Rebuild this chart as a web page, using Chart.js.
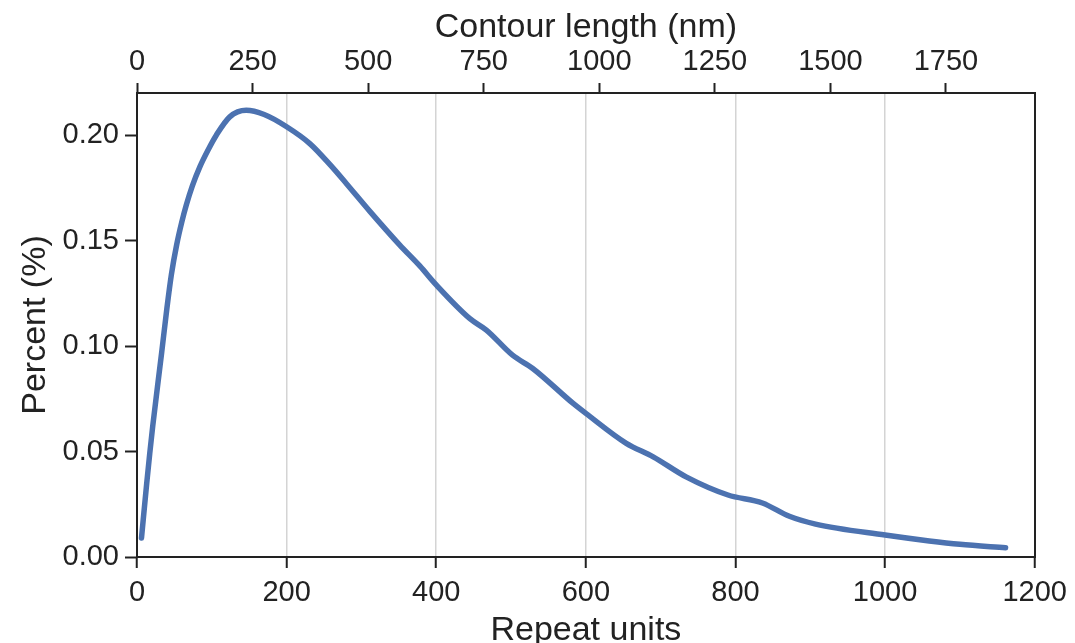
<!DOCTYPE html>
<html lang="en">
<head>
    <meta charset="UTF-8">
    <title>Repeat units distribution</title>
    <script src="https://cdn.jsdelivr.net/npm/chart.js"></script>
    <style>
        body {
            margin: 0;
            padding: 0;
            background: #fff;
        }
        canvas {
            display: block;
        }
    </style>
    <script>
        // values
        const repeatUnits = [6, 13, 17, 21, 33, 40, 46, 53, 60, 66, 74, 84, 95, 106, 124, 146, 170, 200, 231, 258, 280, 311, 351, 378, 400, 445, 467, 502, 529, 583, 600, 654, 690, 734, 790, 836, 872, 907, 1000, 1059, 1100, 1161];
        const percentValues = [0.009, 0.035, 0.049, 0.062, 0.097, 0.118, 0.134, 0.148, 0.159, 0.167, 0.176, 0.185, 0.193, 0.200, 0.2087, 0.2118, 0.2098, 0.204, 0.196, 0.186, 0.177, 0.164, 0.148, 0.138, 0.129, 0.113, 0.1076, 0.0957, 0.0894, 0.0728, 0.0681, 0.0539, 0.0475, 0.038, 0.0294, 0.0256, 0.0193, 0.0156, 0.0104, 0.0076, 0.006, 0.0044];
        const contourTicks = [0, 250, 500, 750, 1000, 1250, 1500, 1750];
        const contourMax = 1942;   // nm at 1200 repeat units

        const fuente = '"Liberation Sans", Arial, sans-serif';
        const tinta = '#222222';

        function dibujar() {
            const puntos = repeatUnits.map((u, i) => ({ x: u, y: percentValues[i] }));
            const ctx = document.getElementById('grafico').getContext('2d');

            new Chart(ctx, {
                type: 'line',
                data: {
                    datasets: [{
                        data: puntos,
                        borderColor: '#4C72B0',
                        borderWidth: 5.5,
                        borderCapStyle: 'round',
                        borderJoinStyle: 'round',
                        pointRadius: 0,
                        cubicInterpolationMode: 'monotone',
                        fill: false,
                        xAxisID: 'x',
                        yAxisID: 'y'
                    }]
                },
                options: {
                    responsive: false,
                    animation: false,
                    devicePixelRatio: 1,
                    layout: { padding: 0 },
                    plugins: {
                        legend: { display: false },
                        tooltip: { enabled: false }
                    },
                    scales: {
                        x: {
                            type: 'linear',
                            position: 'bottom',
                            min: 0,
                            max: 1200,
                            afterFit: s => { s.height = 86; },
                            ticks: {
                                stepSize: 200,
                                autoSkip: false,
                                maxRotation: 0,
                                padding: 8,
                                color: tinta,
                                font: { family: fuente, size: 29 },
                                callback: v => String(v)
                            },
                            grid: {
                                color: '#d4d4d4',
                                lineWidth: 1.5,
                                tickColor: tinta,
                                tickWidth: 2,
                                tickLength: 11
                            },
                            border: { color: tinta, width: 2 },
                            title: {
                                display: true,
                                text: 'Repeat units',
                                color: tinta,
                                font: { family: fuente, size: 34, lineHeight: 1 },
                                padding: { top: 0, bottom: -5 }
                            }
                        },
                        x2: {
                            type: 'linear',
                            position: 'top',
                            min: 0,
                            max: contourMax,
                            afterFit: s => { s.height = 93; },
                            afterBuildTicks: s => { s.ticks = contourTicks.map(v => ({ value: v })); },
                            ticks: {
                                autoSkip: false,
                                maxRotation: 0,
                                padding: 4,
                                color: tinta,
                                font: { family: fuente, size: 29 },
                                callback: v => String(v)
                            },
                            grid: {
                                drawOnChartArea: false,
                                tickColor: tinta,
                                tickWidth: 2,
                                tickLength: 10
                            },
                            border: { color: tinta, width: 2 },
                            title: {
                                display: true,
                                text: 'Contour length (nm)',
                                color: tinta,
                                font: { family: fuente, size: 34, lineHeight: 1 },
                                padding: { top: 11, bottom: 0 }
                            }
                        },
                        y: {
                            type: 'linear',
                            position: 'left',
                            min: 0,
                            max: 0.22,
                            afterFit: s => { s.width = 137; },
                            ticks: {
                                stepSize: 0.05,
                                includeBounds: false,
                                padding: 6,
                                color: tinta,
                                font: { family: fuente, size: 29 },
                                callback: v => v.toFixed(2)
                            },
                            grid: {
                                drawOnChartArea: false,
                                tickColor: tinta,
                                tickWidth: 2,
                                tickLength: 12
                            },
                            border: { color: tinta, width: 2 },
                            title: {
                                display: true,
                                text: 'Percent (%)',
                                color: tinta,
                                font: { family: fuente, size: 34, lineHeight: 1 },
                                padding: { top: 19, bottom: 0 }
                            }
                        },
                        y2: {
                            type: 'linear',
                            position: 'right',
                            min: 0,
                            max: 0.22,
                            afterFit: s => { s.width = 39; },
                            ticks: { display: false },
                            grid: { display: false },
                            border: { display: true, color: tinta, width: 2 }
                        }
                    }
                }
            });
        }

        window.onload = dibujar;
    </script>
</head>
<body>
    <canvas id="grafico" width="1075" height="643"></canvas>
</body>
</html>
